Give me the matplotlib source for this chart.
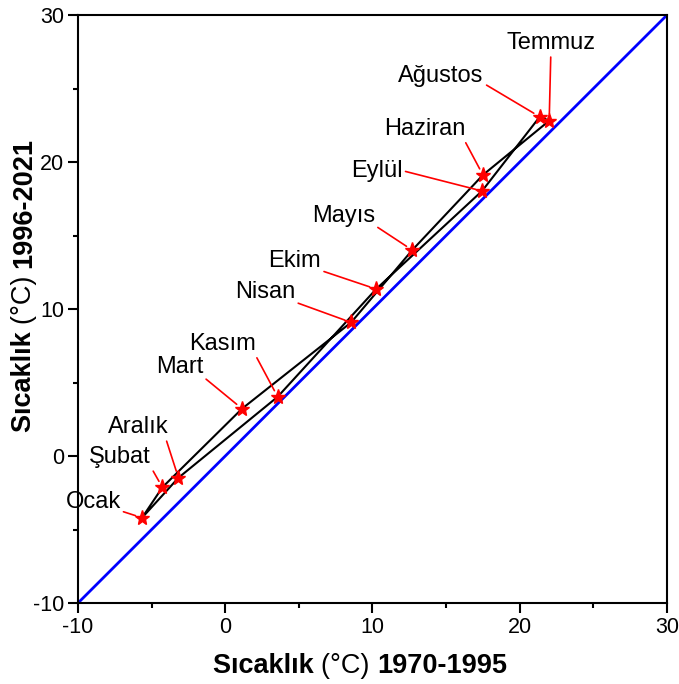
import matplotlib.pyplot as plt
from matplotlib.ticker import MultipleLocator

plt.rcParams['font.family'] = ['Liberation Sans', 'DejaVu Sans']
plt.rcParams['axes.unicode_minus'] = False

# monthly mean temperatures (°C): 1970-1995 vs 1996-2021
months = ['Ocak', 'Şubat', 'Mart', 'Nisan', 'Mayıs', 'Haziran',
          'Temmuz', 'Ağustos', 'Eylül', 'Ekim', 'Kasım', 'Aralık']
t_old = [-5.65, -4.27, 1.14, 8.55, 12.70, 17.50, 22.00, 21.36, 17.44, 10.25, 3.56, -3.18]
t_new = [-4.20, -2.13, 3.22, 9.09, 14.01, 19.12, 22.81, 23.08, 18.03, 11.36, 4.03, -1.48]

# label anchor (x centre, baseline) in data units, and where the leader leaves the text box
label_x = [-8.98, -7.14, -3.10, 2.72, 8.03, 13.54, 22.11, 14.66, 10.30, 4.73, -0.17, -5.92]
label_y = [-3.54, -0.50, 5.65, 10.73, 15.94, 21.84, 27.67, 25.46, 19.00, 12.88, 7.21, 1.54]
leader_from = [(1, 0.1), (1, 0.05), (1, 0.05), (1, 0.05), (1, 0.05), (0.98, 0.05),
               (0.5, 0), (1, 0.15), (1, 0.5), (1, 0.05), (0.98, 0.05), (0.95, 0.05)]

fig = plt.figure(figsize=(6.79, 6.84), dpi=100)
ax = fig.add_axes([0.1149, 0.1184, 0.8674, 0.8596])

ax.plot([-10, 30], [-10, 30], color='#0000ff', lw=2, zorder=2)
ax.plot(t_old + t_old[:1], t_new + t_new[:1], color='black', lw=1.5, zorder=3)
ax.plot(t_old, t_new, ls='none', marker='*', ms=11, color='red', mec='red', zorder=4)

for name, x, y, lx, ly, rp in zip(months, t_old, t_new, label_x, label_y, leader_from):
    ax.annotate(name, xy=(x, y), xytext=(lx, ly), fontsize=17, ha='center', va='baseline',
                arrowprops=dict(arrowstyle='-', color='red', lw=1.2, relpos=rp,
                                shrinkA=0, shrinkB=5),
                zorder=5)

ax.set_xlim(-10, 30)
ax.set_ylim(-10, 30)
ax.xaxis.set_major_locator(MultipleLocator(10))
ax.yaxis.set_major_locator(MultipleLocator(10))
ax.xaxis.set_minor_locator(MultipleLocator(5))
ax.yaxis.set_minor_locator(MultipleLocator(5))
ax.tick_params(which='major', length=7, width=1.5, labelsize=15.5, pad=3)
ax.tick_params(which='minor', length=3.5, width=1.5)
for s in ax.spines.values():
    s.set_linewidth(1.5)

# axis titles: bold text with a regular "(°C)" in the middle
parts = [('Sıcaklık ', 'bold'), ('(°C) ', 'normal'), ('1970-1995', 'bold')]
parts_y = [('Sıcaklık ', 'bold'), ('(°C) ', 'normal'), ('1996-2021', 'bold')]
renderer = fig.canvas.get_renderer()

px = 213
for txt, w in parts:
    t = fig.text(px / 679, 1 - 673 / 684, txt, fontsize=19.5, fontweight=w,
                 ha='left', va='baseline')
    px = t.get_window_extent(renderer).x1

py = 684 - 432
for txt, w in parts_y:
    t = fig.text(31 / 679, py / 684, txt, fontsize=19.5, fontweight=w, rotation=90,
                 rotation_mode='anchor', ha='left', va='baseline')
    py = t.get_window_extent(renderer).y1

fig.savefig('out.png', dpi=100)
